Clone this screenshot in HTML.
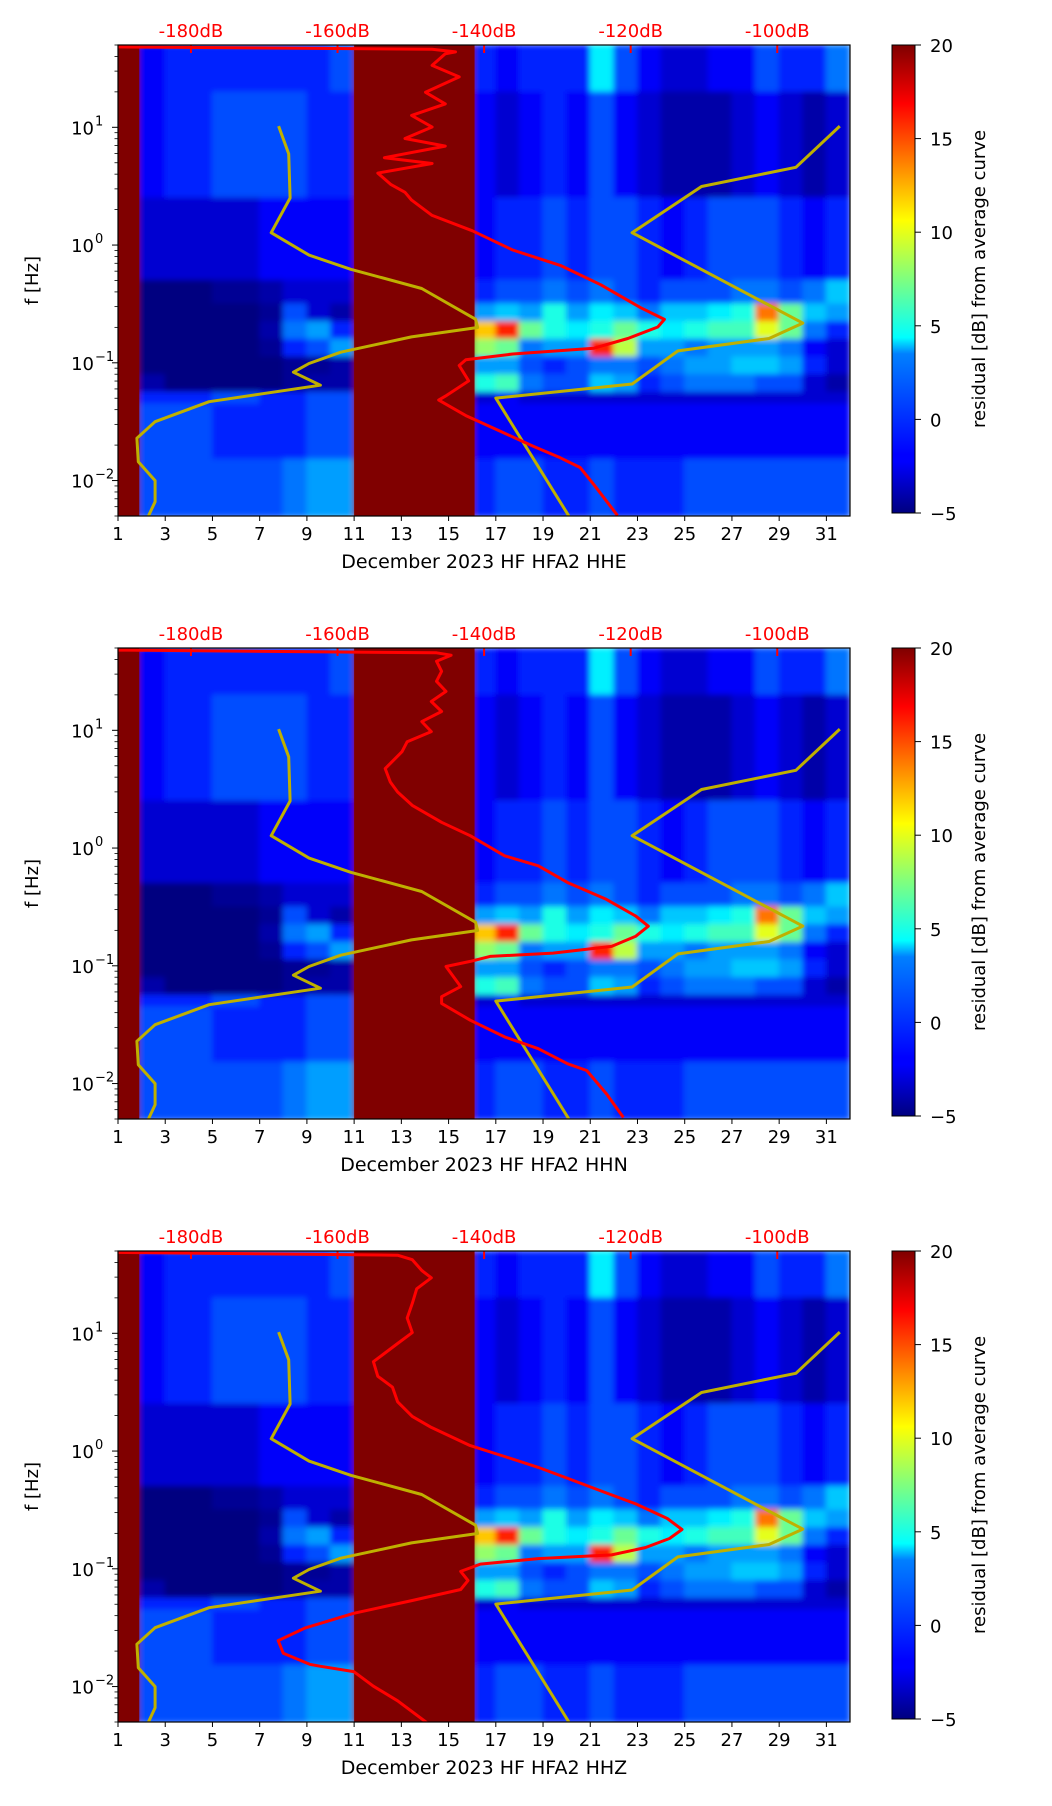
<!DOCTYPE html>
<html><head><meta charset="utf-8">
<style>
html,body{margin:0;padding:0;background:#fff;}
svg{display:block;font-family:"DejaVu Sans","Liberation Sans",sans-serif;}
</style></head>
<body>
<svg id="fig" width="1052" height="1806" viewBox="0 0 1052 1806" xmlns="http://www.w3.org/2000/svg">
<defs>
<linearGradient id="jetgrad" x1="0" y1="1" x2="0" y2="0">
<stop offset="0" stop-color="#00007f"/><stop offset="0.11" stop-color="#0000ff"/>
<stop offset="0.125" stop-color="#0000ff"/><stop offset="0.34" stop-color="#0080ff"/>
<stop offset="0.375" stop-color="#00ffff"/><stop offset="0.5" stop-color="#7fff7f"/>
<stop offset="0.625" stop-color="#ffff00"/><stop offset="0.875" stop-color="#ff0000"/>
<stop offset="1" stop-color="#7f0000"/></linearGradient>
<filter id="soft" x="0" y="0" width="1" height="1"><feGaussianBlur stdDeviation="3"/></filter>
</defs>
</svg>
<script>
// ---- data ----
const dayEdges = [1,1.9,3,5,7,8,9,10,11,16.1,17,18,19,20,21,22,23,24,25,26,27,28,29,30,31,32];
const bandEdges = [1.7,1.3,0.4,-0.3,-0.5,-0.65,-0.8,-0.95,-1.1,-1.25,-1.35,-1.82,-2.31];
const residual = [
[20,-2,-1,-1,-1,-1,-1,0,20,-1,-2,-1,-1,-1,4,0,-2,-3,-3,-2,-2,0,-1,-1,1],
[20,-2,-1,0,0,0,-1,-1,20,-2,-3,-2,-1,-2,0,-2,-3,-4,-4,-4,-3,-2,-3,-4,-3],
[20,-3,-3,-3,-2,-2,-2,-2,20,-2,-1,-1,0,-1,0,0,-1,-2,-1,0,0,0,-1,-2,-1],
[20,-5,-5,-4.5,-4,-3,-3,-3,20,-1,0,0,1,0,1,0,-1,0,0,0,1,1,0,1,3],
[20,-5,-5,-5,-4.5,0,-3,-4,20,2,3,2,5,2,4,3,1,3,3,4,5,14,7,3,2],
[20,-5,-5,-5,-4,1,2,-1,20,12,16,7,5,4,5,7,5,4,5,6,6,10,7,1,-1],
[20,-5,-5,-5,-4.5,-1,0,2,20,8,7,1,2,2,16,9,2,2,1,2,2,2,1,-2,-3],
[20,-5,-5,-5,-5,-4.5,-4.5,-4,20,2,2,0,-1,0,1,1,0,1,2,2,3,3,2,-1,-3],
[20,-4,-5,-5,-5,-4.5,-4,-4,20,5,6,1,0,0,3,2,-1,0,1,1,1,0,0,-3,-4],
[20,-1,-1,0,-1,-1,0,0,20,-3,-2,-3,-3,-3,-3,-3,-3,-3,-3,-3,-3,-3,-3,-3,-3],
[20,0,0,-1,-1,-1,0,0,20,-2,-2,-2,-2,-2,-2,-2,-2,-2,-2,-2,-2,-2,-2,-2,-2],
[20,0,0,0,0,1,2,2,20,-1,0,0,-1,-1,0,-1,-1,-1,0,0,0,0,0,0,0]
];
// yellow curves: day, log10 f
const yellowA_day = [7.8,8.23,8.29,7.49,9.09,10.86,13.86,16.14,16.23,13.43,10.43,9.09,8.43,9.57,4.86,2.57,1.8,1.86,2.57,2.57,2.29];
const yellowA_logf = [1.01,0.775,0.4,0.105,-0.085,-0.206,-0.369,-0.63,-0.7,-0.78,-0.91,-1.006,-1.08,-1.19,-1.33,-1.5,-1.64,-1.84,-2.0,-2.18,-2.3];
const yellowB_day = [31.57,29.71,25.71,22.77,30.0,28.57,24.71,22.77,17.0,20.09];
const yellowB_logf = [1.01,0.66,0.497,0.105,-0.663,-0.794,-0.899,-1.18,-1.3,-2.3];
// red mean-spectrum curves: dB, log10 f
const red1_db = [-189.9,-147.1,-143.9,-145.3,-147.1,-143.4,-148.0,-145.3,-149.9,-147.1,-150.8,-145.3,-153.6,-147.1,-154.5,-152.7,-150.8,-149.9,-147.1,-141.6,-136.1,-129.6,-124.1,-118.6,-115.4,-116.3,-120.4,-125.0,-136.1,-142.5,-143.4,-142.1,-145.3,-146.2,-142.5,-137.9,-133.3,-129.6,-126.9,-125.0,-121.8];
const red1_logf = [1.683,1.663,1.64,1.624,1.526,1.428,1.297,1.199,1.101,1.003,0.905,0.84,0.742,0.693,0.611,0.513,0.448,0.382,0.252,0.121,-0.042,-0.173,-0.337,-0.533,-0.631,-0.696,-0.794,-0.876,-0.925,-0.974,-1.023,-1.154,-1.284,-1.317,-1.448,-1.578,-1.709,-1.807,-1.889,-2.036,-2.297];
const red2_db = [-189.96,-146.5,-144.5,-146.5,-145.8,-146.5,-145.2,-147.2,-145.8,-148.5,-147.2,-150.5,-151.2,-153.5,-152.8,-151.8,-149.8,-145.8,-141.9,-137.2,-132.6,-128.6,-123.3,-119.3,-117.6,-119.3,-122.6,-130.6,-139.2,-141.9,-145.2,-143.2,-145.8,-145.8,-141.9,-137.2,-132.6,-128.6,-126.0,-123.3,-121.0];
const red2_logf = [1.681,1.658,1.638,1.587,1.501,1.416,1.33,1.245,1.16,1.074,0.989,0.903,0.818,0.675,0.561,0.476,0.362,0.219,0.105,-0.066,-0.151,-0.293,-0.436,-0.578,-0.664,-0.749,-0.835,-0.892,-0.92,-0.963,-1.006,-1.177,-1.262,-1.319,-1.462,-1.604,-1.704,-1.832,-1.889,-2.088,-2.288];
const red3_db = [-189.96,-151.8,-149.8,-148.5,-147.2,-149.2,-149.8,-150.5,-149.8,-151.8,-153.8,-155.1,-154.5,-152.5,-151.8,-149.8,-147.2,-141.9,-137.2,-132.6,-128.6,-123.3,-119.3,-115.0,-113.0,-114.7,-118.0,-122.6,-132.6,-140.5,-143.2,-142.2,-143.2,-149.8,-157.8,-164.4,-168.1,-167.4,-163.8,-162.4,-157.8,-155.1,-151.8,-147.8];
const red3_logf = [1.687,1.663,1.625,1.533,1.471,1.378,1.254,1.13,1.006,0.913,0.82,0.759,0.635,0.542,0.418,0.294,0.201,0.046,-0.046,-0.139,-0.232,-0.356,-0.449,-0.573,-0.666,-0.743,-0.82,-0.882,-0.913,-0.96,-1.022,-1.099,-1.176,-1.269,-1.378,-1.502,-1.61,-1.718,-1.811,-1.827,-1.873,-1.997,-2.121,-2.307];
const xTicks = [1,3,5,7,9,11,13,15,17,19,21,23,25,27,29,31];
const yTickExp = [-2,-1,0,1];
const dbTicks = [-180,-160,-140,-120,-100];
const cbTicks = [-5,0,5,10,15,20];
const panelNames = ["HHE","HHN","HHZ"];
const panelTops = [45,648,1251];

// ---- layout ----
const NS="http://www.w3.org/2000/svg";
const svg=document.getElementById('fig');
const L=118,R=850,H=471;
const fmin=Math.log10(0.005), fmax=Math.log10(50);
function xDay(d){return L+(d-1)/31*(R-L);}
function xDb(db){return xDay(4.09+(db+180)/3.222);}
function yF(top,lf){return top+(fmax-lf)/(fmax-fmin)*H;}
function jet(v){let t=(v+5)/25;t=Math.max(0,Math.min(1,t));
 const c=x=>Math.round(255*Math.max(0,Math.min(1,x)));
 return `rgb(${c(1.5-Math.abs(4*t-3))},${c(1.5-Math.abs(4*t-2))},${c(1.5-Math.abs(4*t-1))})`;}
function el(tag,attrs,parent){const e=document.createElementNS(NS,tag);for(const k in attrs)e.setAttribute(k,attrs[k]);(parent||svg).appendChild(e);return e;}
function txt(s,attrs,parent){const e=el('text',attrs,parent);e.textContent=s;return e;}

panelTops.forEach((top,pi)=>{
 const g=el('g',{});
 
 
 const cid='clip'+pi;
 const cp=el('clipPath',{id:cid},g); el('rect',{x:L,y:top,width:R-L,height:H},cp);
 const hm=el('g',{'clip-path':`url(#${cid})`},g);
 
 
 const blur=el('g',{filter:'url(#soft)'},hm);
 for(let b=0;b<residual.length;b++){
  for(let c=0;c<dayEdges.length-1;c++){
   const x0=xDay(dayEdges[c]),x1=xDay(dayEdges[c+1]);
   const y0=yF(top,bandEdges[b]),y1=yF(top,bandEdges[b+1]);
   const r=el('rect',{x:x0-0.5,y:y0-0.5,width:x1-x0+1,height:y1-y0+1,fill:jet(residual[b][c])},blur);
   
   
  }
 }
 [[0,1],[8,9]].forEach(([a,b2])=>{el('rect',{x:xDay(dayEdges[a]),y:top,width:xDay(dayEdges[b2])-xDay(dayEdges[a]),height:H,fill:'#800000'},hm);});
 const line=(xs,ys,fx,color,name)=>{
  const n=Math.min(xs.length,ys.length);
  const pts=xs.slice(0,n).map((v,i)=>fx(v).toFixed(1)+','+yF(top,ys[i]).toFixed(1)).join(' ');
  const p=el('polyline',{points:pts,fill:'none',stroke:color,'stroke-width':3,'stroke-linejoin':'round'},hm);
  
  
 };
 line(yellowA_day,yellowA_logf,xDay,'#bfb000','yellow-curve-left');
 line(yellowB_day,yellowB_logf,xDay,'#bfb000','yellow-curve-right');
 const rd=[red1_db,red2_db,red3_db][pi], rf=[red1_logf,red2_logf,red3_logf][pi];
 line(rd,rf,xDb,'#ff0000','mean-spectrum-curve');
 dbTicks.forEach(db=>{const x=xDb(db);
  el('line',{x1:x,x2:x,y1:top,y2:top+8,stroke:'#ff0000','stroke-width':2},g);
  const t=txt(db+'dB',{x:x,y:top-8,'text-anchor':'middle','font-size':18,fill:'#ff0000'},g);
  
  
 });
 el('rect',{x:L,y:top,width:R-L,height:H,fill:'none',stroke:'#000','stroke-width':1.2},g);
 xTicks.forEach(d=>{const x=xDay(d);
  el('line',{x1:x,x2:x,y1:top+H,y2:top+H+5,stroke:'#000'},g);
  const t=txt(String(d),{x:x,y:top+H+24,'text-anchor':'middle','font-size':18,fill:'#000'},g);
  
  
 });
 yTickExp.forEach(e=>{const y=yF(top,e);
  el('line',{x1:L-6,x2:L,y1:y,y2:y,stroke:'#000'},g);
  const t=txt('10',{x:L-24,y:y+7,'text-anchor':'end','font-size':18,fill:'#000'},g);
  
  
  const s=txt(e<0?'\u2212'+(-e):String(e),{x:L-23,y:y-2,'text-anchor':'start','font-size':13,fill:'#000'},g);
  
  
 });
 for(let e=-3;e<=1;e++)for(let m=2;m<=9;m++){const lf=e+Math.log10(m);
  if(lf<fmin||lf>fmax)continue;const y=yF(top,lf);
  el('line',{x1:L-3.5,x2:L,y1:y,y2:y,stroke:'#000','stroke-width':0.8},g);}
 const yl=txt('f [Hz]',{x:0,y:0,transform:`translate(38,${top+H/2}) rotate(-90)`,'text-anchor':'middle','font-size':18,fill:'#000'},g);
 
 
 const xl=txt('December 2023 HF HFA2  '+panelNames[pi],{x:(L+R)/2,y:top+H+52,'text-anchor':'middle','font-size':19,fill:'#000','xml:space':'preserve'},g);
 
 
 const cb=el('g',{},g);
 
 
 const cbTop=top,cbH=H-3;
 el('rect',{x:892,y:cbTop,width:23,height:cbH,fill:'url(#jetgrad)',stroke:'#000','stroke-width':1},cb);
 cbTicks.forEach(v=>{const y=cbTop+cbH-(v+5)/25*cbH;
  el('line',{x1:915,x2:921,y1:y,y2:y,stroke:'#000'},cb);
  const t=txt(v<0?'\u2212'+(-v):String(v),{x:930,y:y+7,'font-size':18,fill:'#000'},cb);
  
  
 });
 const cl=txt('residual [dB] from average curve',{x:0,y:0,transform:`translate(985,${cbTop+cbH/2}) rotate(-90)`,'text-anchor':'middle','font-size':18,fill:'#000'},cb);
 
 
});
</script>
</body></html>
